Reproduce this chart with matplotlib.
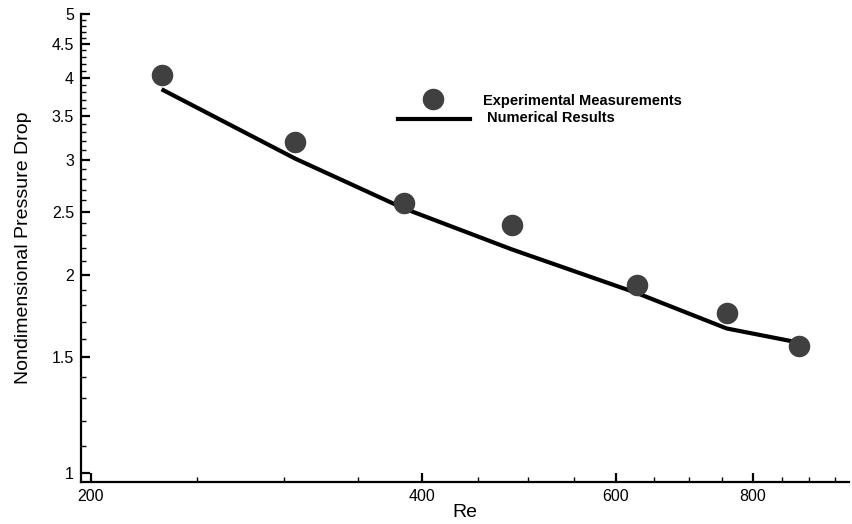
import numpy as np
import matplotlib
matplotlib.use("Agg")
from matplotlib import pyplot as plt
from matplotlib.ticker import FixedLocator, NullFormatter, FixedFormatter

plt.rcParams['font.family'] = ['Liberation Sans', 'DejaVu Sans']

# measured points
re_exp = [232, 307, 385, 483, 627, 757, 880]
dp_exp = [4.04, 3.19, 2.58, 2.39, 1.93, 1.75, 1.56]

# numerical curve
re_num = [232, 307, 385, 483, 627, 757, 880]
dp_num = [3.84, 3.01, 2.53, 2.19, 1.88, 1.66, 1.58]

x_major = [200, 400, 600, 800]
x_minor = [250, 300, 350, 450, 500, 550, 650, 700, 750, 850, 900, 950]
y_major = [1, 1.5, 2, 2.5, 3, 3.5, 4, 4.5, 5]
y_labels = ['1', '1.5', '2', '2.5', '3', '3.5', '4', '4.5', '5']

fig = plt.figure(figsize=(8.52, 5.24), dpi=100)
ax = fig.add_axes([0.0951, 0.0802, 0.9014, 0.8931])

ax.plot(re_num, dp_num, color='black', lw=3.0, solid_capstyle='butt',
        label='Numerical Results', zorder=2)
ax.plot(re_exp, dp_exp, 'o', color='#404040', ms=15.5, mec='none',
        label='Experimental Measurements', zorder=3)

ax.set_xscale('log')
ax.set_yscale('log')
ax.set_xlim(196, 978)
ax.set_ylim(0.969, 5.0)

ax.xaxis.set_major_locator(FixedLocator(x_major))
ax.xaxis.set_major_formatter(FixedFormatter([str(v) for v in x_major]))
ax.xaxis.set_minor_locator(FixedLocator(x_minor))
ax.xaxis.set_minor_formatter(NullFormatter())

y_minor = [round(v, 1) for v in np.arange(1.0, 5.0, 0.1) if round(v, 1) not in y_major]
ax.yaxis.set_major_locator(FixedLocator(y_major))
ax.yaxis.set_major_formatter(FixedFormatter(y_labels))
ax.yaxis.set_minor_locator(FixedLocator(y_minor))
ax.yaxis.set_minor_formatter(NullFormatter())

for s in ['top', 'right']:
    ax.spines[s].set_visible(False)
for s in ['left', 'bottom']:
    ax.spines[s].set_linewidth(1.6)

ax.tick_params(which='major', direction='in', length=6.5, width=1.6, labelsize=11.5, pad=5)
ax.tick_params(which='minor', direction='in', length=3.5, width=1.0)

ax.set_xlabel('Re', fontsize=14, labelpad=0)
ax.set_ylabel('Nondimensional Pressure Drop', fontsize=14, labelpad=14)

# hand-placed legend, axes coords
ax.plot([0.458], [0.818], 'o', color='#404040', ms=15.5, mec='none', transform=ax.transAxes)
ax.plot([0.413, 0.5065], [0.776, 0.776], color='black', lw=3.0, transform=ax.transAxes)
ax.text(0.523, 0.814, 'Experimental Measurements', transform=ax.transAxes,
        fontsize=10.5, fontweight='bold', va='center')
ax.text(0.529, 0.778, 'Numerical Results', transform=ax.transAxes,
        fontsize=10.5, fontweight='bold', va='center')

fig.savefig('out.png', dpi=100)
